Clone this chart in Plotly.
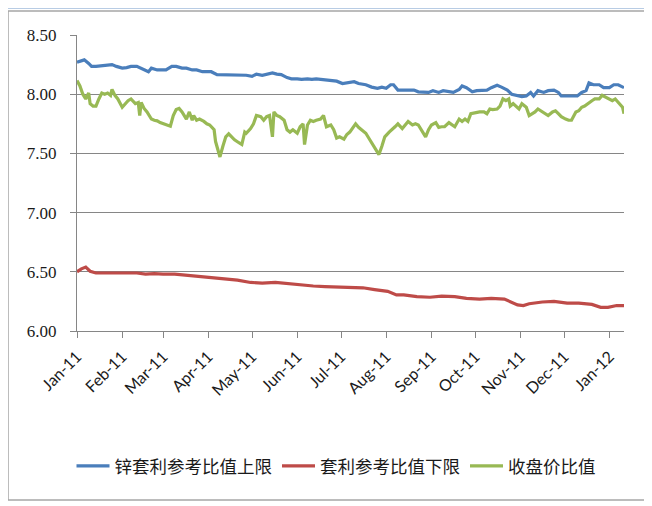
import pandas as pd
import plotly.graph_objects as go

# ---- data (day offsets from 2011-01-01) ----
upper_days = [0,2,5,8,10,13,17,20,24,27,31,34,37,41,44,47,49,51,55,58,
              61,65,68,72,75,79,82,86,89,92,96,99,103,106,110,113,116,120,123,127,
              130,134,137,140,144,147,151,154,158,161,164,168,171,175,178,182,185,187,
              190,193,198,202,206,209,212,215,217,220,224,227,231,234,238,241,244,248,251,255,
              258,262,264,267,271,274,278,281,284,288,291,295,298,302,305,308,311,313,316,320,
              323,327,330,332,336,339,343,346,349,351,354,358,361,365,368,371,375]
upper_vals = [8.27,8.28,8.29,8.26,8.235,8.235,8.24,8.25,8.25,8.235,8.22,8.225,8.235,8.235,8.22,8.205,8.19,8.22,8.205,8.205,
              8.205,8.235,8.235,8.22,8.22,8.205,8.205,8.19,8.19,8.19,8.165,8.165,8.165,8.165,8.165,8.16,8.16,8.15,8.17,8.16,
              8.17,8.18,8.17,8.165,8.14,8.13,8.13,8.125,8.13,8.125,8.13,8.125,8.12,8.115,8.11,8.09,8.095,8.095,
              8.105,8.09,8.08,8.06,8.05,8.06,8.05,8.08,8.08,8.035,8.035,8.04,8.035,8.02,8.015,8.015,8.03,8.015,8.03,8.02,
              8.015,8.04,8.07,8.055,8.02,8.03,8.03,8.035,8.055,8.075,8.06,8.035,8.00,7.985,7.98,7.985,8.015,7.985,8.03,8.015,
              8.03,8.035,8.015,7.985,7.985,7.985,7.985,8.015,8.03,8.095,8.08,8.08,8.055,8.055,8.08,8.08,8.055]

lower_days = [0,3,6,9,13,21,30,36,41,47,53,59,67,76,84,93,102,110,119,127,
              136,144,153,162,170,179,187,196,204,213,219,224,233,242,250,259,267,276,284,293,
              302,306,310,319,327,336,344,353,359,364,370,375]
lower_vals = [6.50,6.525,6.54,6.505,6.49,6.49,6.485,6.485,6.49,6.48,6.485,6.48,6.48,6.47,6.46,6.45,6.44,6.43,6.41,6.405,
              6.41,6.40,6.39,6.38,6.375,6.37,6.37,6.365,6.35,6.335,6.305,6.305,6.29,6.285,6.295,6.29,6.275,6.27,6.275,6.27,
              6.22,6.215,6.23,6.245,6.25,6.235,6.235,6.225,6.20,6.20,6.215,6.215]

close_days = [0,2,4,6,8,9,11,13,15,17,19,21,23,24,26,28,31,33,35,37,
              40,42,43,44,46,48,51,53,55,57,60,62,64,66,68,70,72,75,77,79,
              80,82,84,87,89,91,94,95,97,98,100,102,104,106,108,111,113,115,116,119,
              121,123,126,128,130,132,134,135,137,139,142,144,146,148,151,153,155,156,158,160,
              162,164,167,169,171,174,176,178,180,183,185,187,
              191,193,195,198,200,202,204,207,209,211,214,216,218,220,223,225,227,230,232,234,
              236,239,241,243,246,248,250,252,255,257,259,262,264,266,268,270,272,274,276,279,
              281,283,285,288,290,292,294,296,297,299,301,303,305,308,310,312,314,316,319,321,
              323,326,328,330,332,335,337,339,342,344,346,348,351,353,355,358,360,362,364,367,
              369,371,374,375]
close_vals = [8.115,8.07,8.00,7.96,8.01,7.92,7.90,7.90,7.96,8.01,8.00,8.01,7.99,8.04,7.99,7.96,7.89,7.92,7.945,7.96,
              7.92,7.93,7.82,7.93,7.88,7.85,7.79,7.78,7.775,7.76,7.75,7.74,7.73,7.82,7.87,7.88,7.85,7.79,7.85,7.78,
              7.82,7.78,7.79,7.77,7.75,7.74,7.70,7.60,7.52,7.47,7.56,7.64,7.665,7.64,7.615,7.59,7.575,7.68,7.67,7.71,
              7.75,7.82,7.81,7.78,7.81,7.82,7.64,7.85,7.82,7.81,7.78,7.70,7.68,7.70,7.67,7.725,7.75,7.575,7.74,7.78,
              7.77,7.78,7.79,7.82,7.725,7.74,7.70,7.63,7.64,7.62,7.66,7.68,
              7.75,7.72,7.70,7.67,7.63,7.59,7.55,7.49,7.56,7.64,7.68,7.70,7.725,7.75,7.71,7.74,7.77,7.74,7.75,7.74,
              7.70,7.64,7.70,7.74,7.76,7.72,7.725,7.725,7.76,7.74,7.725,7.79,7.77,7.79,7.77,7.835,7.84,7.85,7.85,7.85,
              7.835,7.875,7.87,7.875,7.90,7.96,7.945,7.96,7.90,7.92,7.90,7.875,7.92,7.89,7.82,7.835,7.85,7.875,7.85,7.835,
              7.82,7.85,7.86,7.835,7.81,7.79,7.78,7.78,7.85,7.86,7.89,7.90,7.93,7.945,7.96,7.96,7.99,7.975,7.96,7.945,
              7.96,7.93,7.89,7.835]

series_names = ["锌套利参考比值上限", "套利参考比值下限", "收盘价比值"]
month_ticks = ["2011-01-01","2011-02-01","2011-03-01","2011-04-01","2011-05-01","2011-06-01",
               "2011-07-01","2011-08-01","2011-09-01","2011-10-01","2011-11-01","2011-12-01","2012-01-01"]
month_labels = ["Jan-11","Feb-11","Mar-11","Apr-11","May-11","Jun-11","Jul-11",
                "Aug-11","Sep-11","Oct-11","Nov-11","Dec-11","Jan-12"]
y_ticks = [6.00, 6.50, 7.00, 7.50, 8.00, 8.50]

base = pd.Timestamp("2011-01-01")
def to_dates(days):
    return [base + pd.Timedelta(days=d) for d in days]

colors = ["#4a7ebb", "#be4b48", "#98b954"]

fig = go.Figure()
for name, days, vals, col in [(series_names[0], upper_days, upper_vals, colors[0]),
                              (series_names[1], lower_days, lower_vals, colors[1]),
                              (series_names[2], close_days, close_vals, colors[2])]:
    fig.add_trace(go.Scatter(x=to_dates(days), y=vals, mode="lines", name=name,
                             line=dict(color=col, width=3.2)))

# page body has an 8px margin, so the figure is drawn 8px right/down
OFF = 8
W, H = 652, 506
L = 77 - OFF
T = 35 - OFF
R = W - (624 - OFF)
B = H - (331 - OFF)
pw, ph = W - L - R, H - T - B
def px(xp):
    return (xp - OFF - L) / pw
def py(yp):
    return (H - B - (yp - OFF)) / ph

fig.update_layout(
    width=W, height=H,
    margin=dict(l=L, r=R, t=T, b=B, autoexpand=False),
    paper_bgcolor="white", plot_bgcolor="white",
    showlegend=True,
    legend=dict(orientation="h", x=px(336), xanchor="center", y=py(466), yanchor="middle",
                itemwidth=33,
                font=dict(family="Noto Sans CJK SC", size=17.5, color="#1a1a1a"),
                bgcolor="rgba(0,0,0,0)"),
    xaxis=dict(type="date",
               range=[base, base + pd.Timedelta(days=375)],
               tickmode="array", tickvals=month_ticks, ticktext=month_labels,
               tickangle=-45, ticks="outside", ticklen=6, tickcolor="#868686",
               ticklabelstandoff=3,
               showline=True, linecolor="#868686", linewidth=1,
               showgrid=False, zeroline=False,
               tickfont=dict(family="Lato", size=16, color="#1a1a1a")),
    yaxis=dict(range=[6.0, 8.5], tickmode="array", tickvals=y_ticks,
               ticktext=[f"{v:.2f}" for v in y_ticks],
               ticks="outside", ticklen=6, tickcolor="#868686",
               ticklabelstandoff=10,
               showline=True, linecolor="#868686", linewidth=1,
               showgrid=True, gridcolor="#868686", gridwidth=1, zeroline=False,
               tickfont=dict(family="Liberation Serif", size=17, color="#1a1a1a")),
    shapes=[
        dict(type="rect", xref="paper", yref="paper",
             x0=px(3), x1=px(660), y0=py(9), y1=py(4),
             fillcolor="#b8cce4", line=dict(width=0), layer="below"),
        dict(type="rect", xref="paper", yref="paper",
             x0=px(8), x1=px(665), y0=py(500), y1=py(11),
             fillcolor="rgba(0,0,0,0)", line=dict(color="#a6a6a6", width=1.5), layer="below"),
    ],
)

fig.write_html("out.html")
